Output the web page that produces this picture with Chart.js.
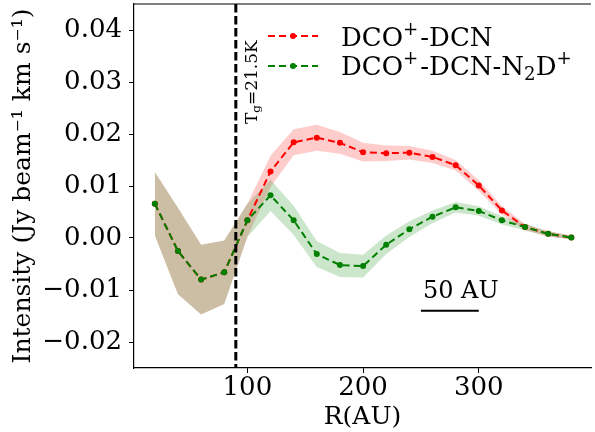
<!DOCTYPE html>
<html><head><meta charset="utf-8">
<script src="https://cdn.jsdelivr.net/npm/chart.js@4/dist/chart.umd.min.js"></script>
<style>html,body{margin:0;padding:0;background:#fff}</style>
</head><body>
<canvas id="c" width="595" height="432" style="display:block;width:595px;height:432px"></canvas>
<script>
// ---- data ----
const radii = [20,40,60,80,100,120,140,160,180,200,220,240,260,280,300,320,340,360,380];
const dcoDcn = [0.0066,-0.0025,-0.0080,-0.0066,0.0034,0.0128,0.0184,0.0193,0.0183,0.0165,0.0163,0.0164,0.0156,0.0140,0.0101,0.0053,0.0021,0.0008,0.0001];
const dcoDcnErr = [0.0061,0.0083,0.0067,0.0061,0.0032,0.0030,0.0025,0.0025,0.0021,0.0018,0.0015,0.0013,0.0012,0.0010,0.0010,0.0008,0.0006,0.0005,0.0004];
const dcoDcnN2d = [0.0066,-0.0025,-0.0080,-0.0066,0.0034,0.0082,0.0034,-0.0031,-0.0052,-0.0054,-0.0013,0.0017,0.0041,0.0059,0.0052,0.0034,0.0021,0.0008,0.0001];
const dcoDcnN2dErr = [0.0061,0.0083,0.0067,0.0061,0.0032,0.0030,0.0028,0.0025,0.0023,0.0022,0.0018,0.0015,0.0012,0.0010,0.0009,0.0008,0.0006,0.0005,0.0004];
const yTicks = [-0.02,-0.01,0.00,0.01,0.02,0.03,0.04];
const xTicks = [100,200,300];
const tgRadius = 90;
const scaleBarAU = [250,300];
const scaleBarY = -0.0140;
const scaleLabelY = -0.0103;

const FONT = '"DejaVu Serif", "Liberation Serif", serif';
const RED = '#ff0000', GREEN = '#008000';
const TICK_SIZE = 26;

const pts = (ys) => radii.map((r,i) => ({x:r, y:ys[i]}));
const band = (ys, es, s) => radii.map((r,i) => ({x:r, y:ys[i] + s*es[i]}));

function drawRich(ctx, parts, x, y, size) {
  let cx = x;
  for (const p of parts) {
    let s = size, dy = 0;
    if (p.sup) { s = size*0.7; dy = -size*0.42; }
    if (p.sub) { s = size*0.7; dy = size*0.2; }
    ctx.font = s + 'px ' + FONT;
    ctx.fillText(p.t, cx, y + dy);
    cx += ctx.measureText(p.t).width + (p.gap || 0);
  }
}

const annot = {
  id: 'annot',
  afterDatasetsDraw(chart) {
    const ctx = chart.ctx, xs = chart.scales.x, ys = chart.scales.y, ca = chart.chartArea;
    ctx.save();
    // top spine
    ctx.strokeStyle = '#000'; ctx.lineWidth = 1.2; ctx.setLineDash([]);
    ctx.beginPath(); ctx.moveTo(ca.left, ca.top); ctx.lineTo(ca.right, ca.top); ctx.stroke();
    // vertical dashed line
    const vx = xs.getPixelForValue(tgRadius);
    ctx.lineWidth = 3; ctx.setLineDash([8.5,3.5]);
    ctx.beginPath(); ctx.moveTo(vx, ca.top); ctx.lineTo(vx, ca.bottom); ctx.stroke();
    ctx.setLineDash([]);
    // T_g label rotated
    ctx.save();
    ctx.translate(vx + 21, 124);
    ctx.rotate(-Math.PI/2);
    ctx.fillStyle = '#000'; ctx.textBaseline = 'alphabetic';
    drawRich(ctx, [{t:'T'},{t:'g',sub:true},{t:'=21.5K'}], 0, 0, 17);
    ctx.restore();
    // scale bar
    const sy = ys.getPixelForValue(scaleBarY);
    ctx.lineWidth = 2;
    ctx.beginPath(); ctx.moveTo(xs.getPixelForValue(scaleBarAU[0]), sy); ctx.lineTo(xs.getPixelForValue(scaleBarAU[1]), sy); ctx.stroke();
    ctx.font = '24px ' + FONT; ctx.fillStyle = '#000'; ctx.textBaseline = 'middle'; ctx.textAlign = 'left';
    ctx.fillText('50 AU', xs.getPixelForValue(scaleBarAU[0]) + 2, ys.getPixelForValue(scaleLabelY));
    // legend
    const entries = [
      {c: RED, y: 36, parts: [{t:'DCO'},{t:'+',sup:true,gap:2},{t:'-DCN'}], base: 45.5},
      {c: GREEN, y: 66, parts: [{t:'DCO'},{t:'+',sup:true,gap:2},{t:'-DCN-N'},{t:'2',sub:true},{t:'D'},{t:'+',sup:true}], base: 75}
    ];
    for (const e of entries) {
      ctx.strokeStyle = e.c; ctx.fillStyle = e.c; ctx.lineWidth = 2; ctx.setLineDash([7,4]);
      ctx.beginPath(); ctx.moveTo(268, e.y); ctx.lineTo(318, e.y); ctx.stroke();
      ctx.setLineDash([]);
      ctx.beginPath(); ctx.arc(293, e.y, 3, 0, Math.PI*2); ctx.fill();
      ctx.fillStyle = '#000'; ctx.textBaseline = 'alphabetic'; ctx.textAlign = 'left';
      drawRich(ctx, e.parts, 341, e.base, 26);
    }
    ctx.restore();
  }
};

const fmt = v => (Math.abs(v) < 1e-9 ? '0.00' : v.toFixed(2).replace('-', '\u2212'));

new Chart(document.getElementById('c'), {
  type: 'line',
  data: {
    datasets: [
      {label:'DCO+-DCN-N2D+', data: pts(dcoDcnN2d), borderColor: GREEN, backgroundColor: GREEN, borderWidth: 2, borderDash:[7,4], pointRadius: 3, pointBorderWidth: 0, pointBackgroundColor: GREEN, fill:false, order: 1},
      {label:'DCO+-DCN', data: pts(dcoDcn), borderColor: RED, backgroundColor: RED, borderWidth: 2, borderDash:[7,4], pointRadius: 3, pointBorderWidth: 0, pointBackgroundColor: RED, fill:false, order: 2},
      {label:'g_hi', data: band(dcoDcnN2d, dcoDcnN2dErr, 1), borderWidth: 0, pointRadius: 0, fill: '+1', backgroundColor: 'rgba(0,128,0,0.2)', borderColor:'rgba(0,0,0,0)', order: 3},
      {label:'g_lo', data: band(dcoDcnN2d, dcoDcnN2dErr, -1), borderWidth: 0, pointRadius: 0, fill: false, borderColor:'rgba(0,0,0,0)', order: 3},
      {label:'r_hi', data: band(dcoDcn, dcoDcnErr, 1), borderWidth: 0, pointRadius: 0, fill: '+1', backgroundColor: 'rgba(255,0,0,0.2)', borderColor:'rgba(0,0,0,0)', order: 5},
      {label:'r_lo', data: band(dcoDcn, dcoDcnErr, -1), borderWidth: 0, pointRadius: 0, fill: false, borderColor:'rgba(0,0,0,0)', order: 5}
    ]
  },
  options: {
    responsive: false, animation: false, devicePixelRatio: 1,
    layout: {padding: {left: 0, right: 0, top: 4, bottom: 0}},
    plugins: {legend: {display: false}, tooltip: {enabled: false}},
    elements: {line: {tension: 0}},
    scales: {
      x: {
        type: 'linear', min: 2, max: 397,
        afterBuildTicks: s => { s.ticks = xTicks.map(v => ({value: v})); },
        afterFit: s => { s.height = 64; s.paddingLeft = 0; s.paddingRight = 0; },
        grid: {display: true, drawOnChartArea: false, drawTicks: true, tickLength: 5, tickColor: '#000', color: '#000'},
        border: {display: true, color: '#000', width: 1.2},
        ticks: {color: '#000', font: {family: FONT, size: TICK_SIZE}, padding: 0, maxRotation: 0, callback: v => String(v)},
        title: {display: true, text: 'R(AU)', color: '#000', font: {family: FONT, size: 25}, padding: {top: 0, bottom: 0}}
      },
      y: {
        type: 'linear', min: -0.025, max: 0.045,
        afterBuildTicks: s => { s.ticks = yTicks.map(v => ({value: v})); },
        afterFit: s => { s.width = 134; s.paddingTop = 0; s.paddingBottom = 0; },
        grid: {display: true, drawOnChartArea: false, drawTicks: true, tickLength: 5, tickColor: '#000', color: '#000'},
        border: {display: true, color: '#000', width: 1.2},
        ticks: {color: '#000', font: {family: FONT, size: TICK_SIZE}, padding: 7, callback: v => fmt(v)},
        title: {display: true, text: 'Intensity (Jy beam\u207B\u00B9 km s\u207B\u00B9)', color: '#000', font: {family: FONT, size: 25}, padding: {top: 8, bottom: 0}}
      }
    }
  },
  plugins: [annot]
});
</script>
</body></html>
